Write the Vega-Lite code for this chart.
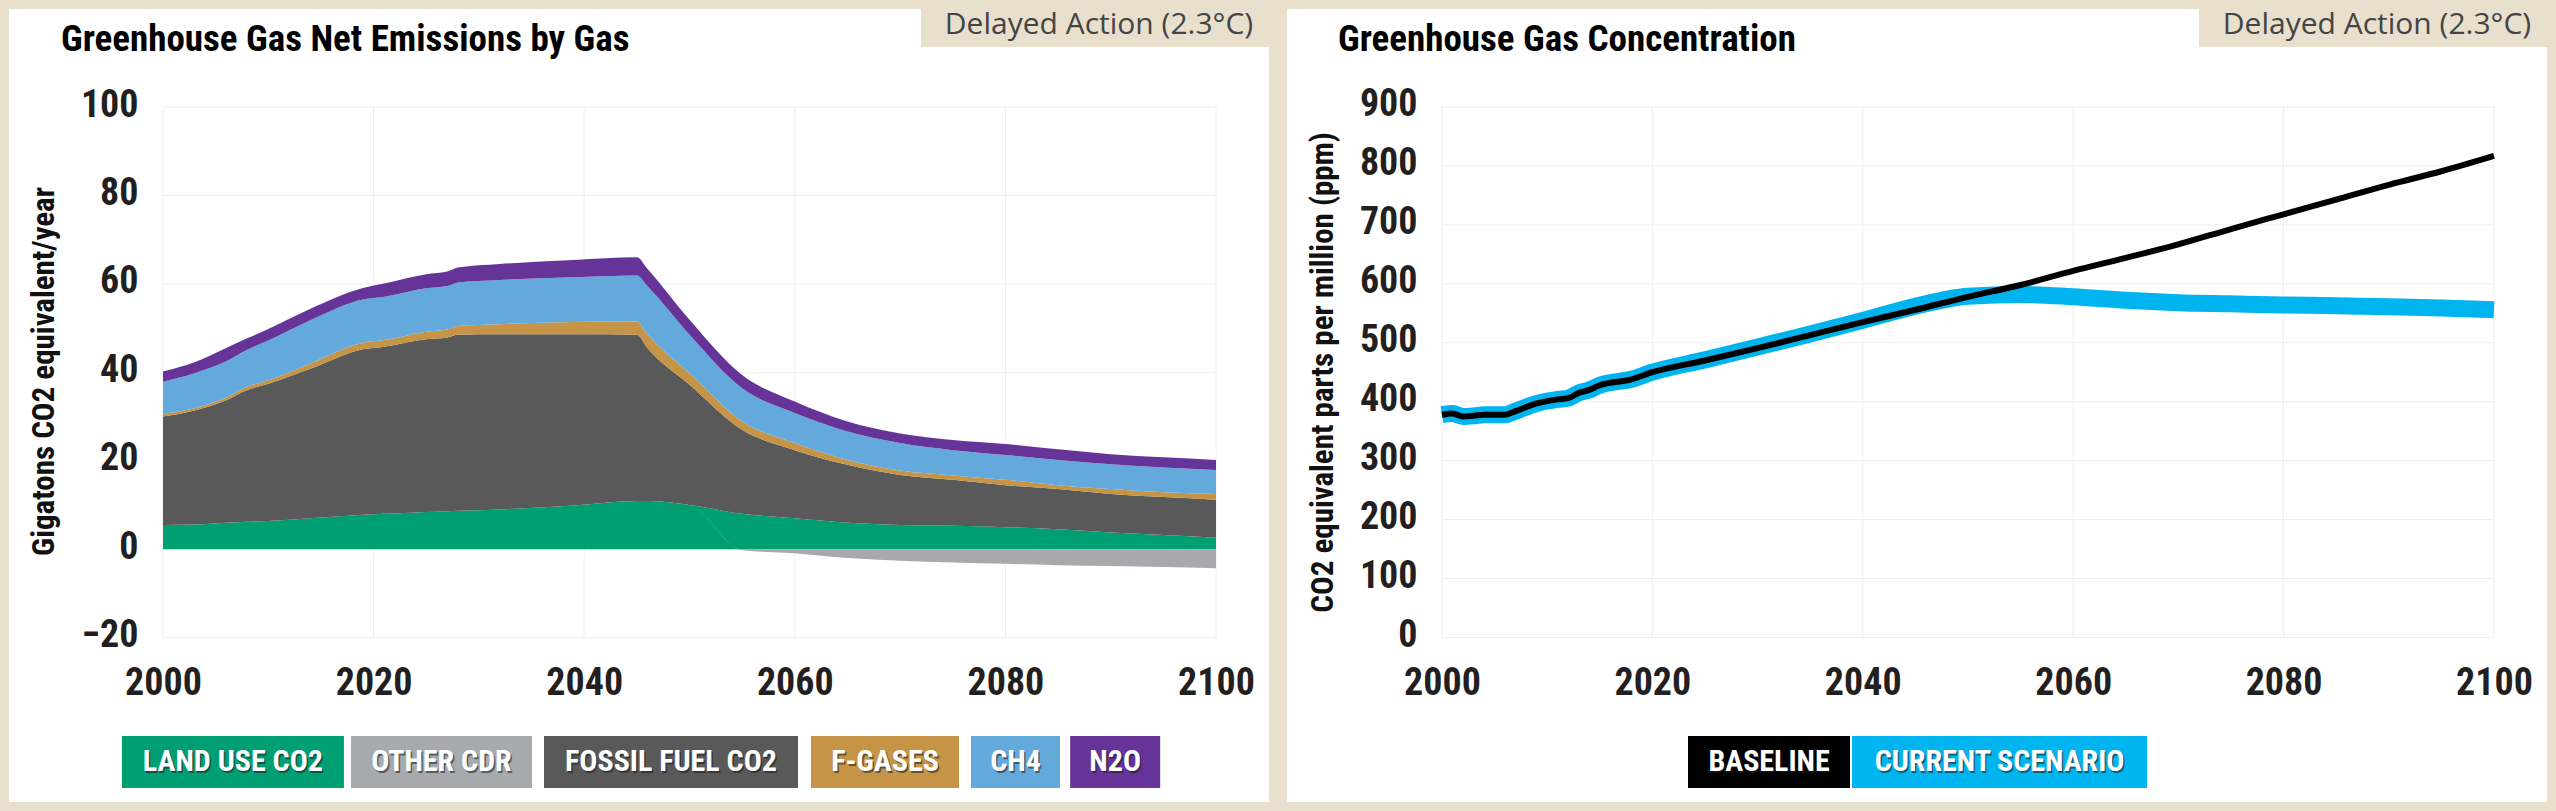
{
  "$schema": "https://vega.github.io/schema/vega-lite/v6.json",
  "background": "#e8dfcc",
  "padding": {"left": 9, "right": 9, "top": 9, "bottom": 9},
  "spacing": 18,
  "resolve": {"scale": {"color": "independent", "size": "independent", "x": "independent", "y": "independent"}},
  "config": {
    "view": {"fill": "#ffffff", "stroke": null},
    "font": "Roboto Condensed",
    "axis": {
      "domain": false, "ticks": false, "grid": false,
      "labelFont": "Roboto Condensed", "labelFontWeight": "bold", "labelFontSize": 38, "labelColor": "#231f20",
      "labelOverlap": false, "labelFlush": false,
      "titleFont": "Roboto Condensed", "titleFontWeight": "bold", "titleFontSize": 31, "titleColor": "#111111"
    },
    "title": {"font": "Roboto Condensed", "fontWeight": "bold", "fontSize": 37, "color": "#000000", "anchor": "start", "frame": "group", "baseline": "alphabetic"}
  },
  "datasets": {
    "emissions": [
      {"year": 2000, "LAND USE CO2": 5.5, "OTHER CDR": 0, "FOSSIL FUEL CO2": 24.5, "F-GASES": 0.6, "CH4": 7.3, "N2O": 2.3},
      {"year": 2003, "LAND USE CO2": 5.6, "OTHER CDR": 0, "FOSSIL FUEL CO2": 25.8, "F-GASES": 0.5, "CH4": 7.9, "N2O": 2.5},
      {"year": 2006, "LAND USE CO2": 6.0, "OTHER CDR": 0, "FOSSIL FUEL CO2": 27.7, "F-GASES": 0.6, "CH4": 8.2, "N2O": 3.0},
      {"year": 2008, "LAND USE CO2": 6.2, "OTHER CDR": 0, "FOSSIL FUEL CO2": 29.8, "F-GASES": 0.8, "CH4": 8.3, "N2O": 2.6},
      {"year": 2010, "LAND USE CO2": 6.4, "OTHER CDR": 0, "FOSSIL FUEL CO2": 31.0, "F-GASES": 0.8, "CH4": 9.0, "N2O": 2.6},
      {"year": 2014, "LAND USE CO2": 7.0, "OTHER CDR": 0, "FOSSIL FUEL CO2": 33.8, "F-GASES": 1.2, "CH4": 9.8, "N2O": 2.6},
      {"year": 2019, "LAND USE CO2": 7.8, "OTHER CDR": 0, "FOSSIL FUEL CO2": 37.4, "F-GASES": 1.5, "CH4": 9.8, "N2O": 2.6},
      {"year": 2021, "LAND USE CO2": 8.0, "OTHER CDR": 0, "FOSSIL FUEL CO2": 37.8, "F-GASES": 1.5, "CH4": 9.8, "N2O": 3.0},
      {"year": 2025, "LAND USE CO2": 8.4, "OTHER CDR": 0, "FOSSIL FUEL CO2": 39.1, "F-GASES": 1.7, "CH4": 9.8, "N2O": 3.2},
      {"year": 2027, "LAND USE CO2": 8.6, "OTHER CDR": 0, "FOSSIL FUEL CO2": 39.3, "F-GASES": 1.8, "CH4": 9.8, "N2O": 3.3},
      {"year": 2028, "LAND USE CO2": 8.7, "OTHER CDR": 0, "FOSSIL FUEL CO2": 39.8, "F-GASES": 2.0, "CH4": 9.8, "N2O": 3.4},
      {"year": 2032, "LAND USE CO2": 9.0, "OTHER CDR": 0, "FOSSIL FUEL CO2": 39.6, "F-GASES": 2.3, "CH4": 10.0, "N2O": 3.6},
      {"year": 2039, "LAND USE CO2": 9.9, "OTHER CDR": 0, "FOSSIL FUEL CO2": 38.7, "F-GASES": 2.8, "CH4": 10.1, "N2O": 3.9},
      {"year": 2045, "LAND USE CO2": 10.9, "OTHER CDR": 0, "FOSSIL FUEL CO2": 37.6, "F-GASES": 3.0, "CH4": 10.4, "N2O": 4.1},
      {"year": 2046, "LAND USE CO2": 10.9, "OTHER CDR": 0, "FOSSIL FUEL CO2": 34.6, "F-GASES": 3.1, "CH4": 10.9, "N2O": 3.9},
      {"year": 2050, "LAND USE CO2": 10.0, "OTHER CDR": 0, "FOSSIL FUEL CO2": 27.2, "F-GASES": 2.6, "CH4": 8.7, "N2O": 3.4},
      {"year": 2055, "LAND USE CO2": 8.0, "OTHER CDR": -0.2, "FOSSIL FUEL CO2": 19.0, "F-GASES": 1.9, "CH4": 7.5, "N2O": 3.0},
      {"year": 2060, "LAND USE CO2": 7.0, "OTHER CDR": -0.9, "FOSSIL FUEL CO2": 15.4, "F-GASES": 1.6, "CH4": 6.8, "N2O": 2.6},
      {"year": 2065, "LAND USE CO2": 6.0, "OTHER CDR": -2.0, "FOSSIL FUEL CO2": 13.1, "F-GASES": 1.1, "CH4": 6.4, "N2O": 2.3},
      {"year": 2070, "LAND USE CO2": 5.5, "OTHER CDR": -2.6, "FOSSIL FUEL CO2": 11.3, "F-GASES": 1.0, "CH4": 6.2, "N2O": 2.2},
      {"year": 2075, "LAND USE CO2": 5.3, "OTHER CDR": -3.0, "FOSSIL FUEL CO2": 10.4, "F-GASES": 1.0, "CH4": 5.7, "N2O": 2.3},
      {"year": 2080, "LAND USE CO2": 5.0, "OTHER CDR": -3.3, "FOSSIL FUEL CO2": 9.5, "F-GASES": 1.2, "CH4": 5.6, "N2O": 2.5},
      {"year": 2085, "LAND USE CO2": 4.5, "OTHER CDR": -3.6, "FOSSIL FUEL CO2": 9.1, "F-GASES": 0.9, "CH4": 5.7, "N2O": 2.4},
      {"year": 2090, "LAND USE CO2": 3.8, "OTHER CDR": -3.8, "FOSSIL FUEL CO2": 8.7, "F-GASES": 1.1, "CH4": 5.6, "N2O": 2.3},
      {"year": 2095, "LAND USE CO2": 3.2, "OTHER CDR": -4.0, "FOSSIL FUEL CO2": 8.6, "F-GASES": 1.1, "CH4": 5.6, "N2O": 2.3},
      {"year": 2100, "LAND USE CO2": 2.6, "OTHER CDR": -4.3, "FOSSIL FUEL CO2": 8.6, "F-GASES": 1.3, "CH4": 5.4, "N2O": 2.3}
    ],
    "gases": [
      {"gas": "LAND USE CO2", "idx": 1},
      {"gas": "OTHER CDR", "idx": 2},
      {"gas": "FOSSIL FUEL CO2", "idx": 3},
      {"gas": "F-GASES", "idx": 4},
      {"gas": "CH4", "idx": 5},
      {"gas": "N2O", "idx": 6}
    ],
    "concentration": [
      {"year": 2000, "BASELINE": 378, "CURRENT SCENARIO": 378},
      {"year": 2001, "BASELINE": 380, "CURRENT SCENARIO": 380},
      {"year": 2002, "BASELINE": 375, "CURRENT SCENARIO": 375},
      {"year": 2003, "BASELINE": 376, "CURRENT SCENARIO": 376},
      {"year": 2004, "BASELINE": 378, "CURRENT SCENARIO": 378},
      {"year": 2006, "BASELINE": 378, "CURRENT SCENARIO": 378},
      {"year": 2007, "BASELINE": 384, "CURRENT SCENARIO": 384},
      {"year": 2009, "BASELINE": 397, "CURRENT SCENARIO": 397},
      {"year": 2011, "BASELINE": 404, "CURRENT SCENARIO": 404},
      {"year": 2012, "BASELINE": 406, "CURRENT SCENARIO": 406},
      {"year": 2013, "BASELINE": 415, "CURRENT SCENARIO": 415},
      {"year": 2014, "BASELINE": 420, "CURRENT SCENARIO": 420},
      {"year": 2015, "BASELINE": 428, "CURRENT SCENARIO": 428},
      {"year": 2018, "BASELINE": 438, "CURRENT SCENARIO": 438},
      {"year": 2020, "BASELINE": 450, "CURRENT SCENARIO": 450},
      {"year": 2025, "BASELINE": 470, "CURRENT SCENARIO": 471},
      {"year": 2030, "BASELINE": 491, "CURRENT SCENARIO": 493},
      {"year": 2035, "BASELINE": 513, "CURRENT SCENARIO": 515},
      {"year": 2040, "BASELINE": 535, "CURRENT SCENARIO": 538},
      {"year": 2045, "BASELINE": 556, "CURRENT SCENARIO": 562},
      {"year": 2050, "BASELINE": 578, "CURRENT SCENARIO": 579},
      {"year": 2055, "BASELINE": 598, "CURRENT SCENARIO": 582},
      {"year": 2060, "BASELINE": 622, "CURRENT SCENARIO": 578},
      {"year": 2065, "BASELINE": 644, "CURRENT SCENARIO": 572},
      {"year": 2070, "BASELINE": 667, "CURRENT SCENARIO": 568},
      {"year": 2075, "BASELINE": 693, "CURRENT SCENARIO": 566},
      {"year": 2080, "BASELINE": 718, "CURRENT SCENARIO": 564},
      {"year": 2085, "BASELINE": 743, "CURRENT SCENARIO": 563},
      {"year": 2090, "BASELINE": 768, "CURRENT SCENARIO": 561},
      {"year": 2095, "BASELINE": 791, "CURRENT SCENARIO": 559},
      {"year": 2100, "BASELINE": 817, "CURRENT SCENARIO": 556}
    ],
    "series": [
      {"series": "BASELINE", "idx": 1},
      {"series": "CURRENT SCENARIO", "idx": 2}
    ],
    "badge": [
      {"badge": "Delayed Action (2.3°C)"}
    ]
  },
  "hconcat": [
    {
      "width": 1260,
      "height": 793,
      "title": {"text": "Greenhouse Gas Net Emissions by Gas", "dx": 52, "offset": -50},
      "resolve": {"scale": {"x": "independent", "y": "independent"}},
      "layer": [
        {
          "layer": [
            {
              "data": {"values": [{"year": 2000}, {"year": 2020}, {"year": 2040}, {"year": 2060}, {"year": 2080}, {"year": 2100}]},
              "mark": {"type": "rule", "color": "#eeeeee", "strokeWidth": 1},
              "encoding": {
                "x": {"field": "year", "type": "quantitative", "scale": {"domain": [1985.375, 2105.033], "nice": false, "zero": false}},
                "y": {"datum": -20, "type": "quantitative", "scale": {"domain": [-57.15, 122.16], "nice": false, "zero": false}},
                "y2": {"datum": 100}
              }
            },
            {
              "data": {"values": [{"value": -20}, {"value": 0}, {"value": 20}, {"value": 40}, {"value": 60}, {"value": 80}, {"value": 100}]},
              "mark": {"type": "rule", "color": "#eeeeee", "strokeWidth": 1},
              "encoding": {
                "y": {"field": "value", "type": "quantitative", "scale": {"domain": [-57.15, 122.16], "nice": false, "zero": false}},
                "x": {"datum": 2000, "type": "quantitative", "scale": {"domain": [1985.375, 2105.033], "nice": false, "zero": false}},
                "x2": {"datum": 2100}
              }
            },
            {
              "data": {"name": "emissions"},
              "transform": [
                {"fold": ["LAND USE CO2", "OTHER CDR", "FOSSIL FUEL CO2", "F-GASES", "CH4", "N2O"], "as": ["gas", "value"]},
                {"lookup": "gas", "from": {"data": {"name": "gases"}, "key": "gas", "fields": ["idx"]}}
              ],
              "mark": {"type": "area", "interpolate": "monotone"},
              "encoding": {
                "x": {
                  "field": "year", "type": "quantitative",
                  "scale": {"domain": [1985.375, 2105.033], "nice": false, "zero": false},
                  "axis": {"values": [2000, 2020, 2040, 2060, 2080, 2100], "format": "d", "offset": -164.3, "labelPadding": 27, "title": null}
                },
                "y": {
                  "field": "value", "type": "quantitative",
                  "scale": {"domain": [-57.15, 122.16], "nice": false, "zero": false},
                  "axis": {"values": [-20, 0, 20, 40, 60, 80, 100], "offset": -154, "labelPadding": 25, "labelOffset": -2,
                           "title": "Gigatons CO2 equivalent/year", "titleX": -110, "titleY": 362, "titleBaseline": "alphabetic"}
                },
                "color": {
                  "field": "gas", "type": "nominal",
                  "scale": {"domain": ["LAND USE CO2", "OTHER CDR", "FOSSIL FUEL CO2", "F-GASES", "CH4", "N2O"],
                            "range": ["#009e73", "#a7a9ac", "#595959", "#c69446", "#63a9dc", "#663399"]},
                  "legend": null
                },
                "order": {"field": "idx", "type": "quantitative"}
              }
            },
            {
              "data": {"name": "badge"},
              "mark": {"type": "rect", "color": "#e8dfcc"},
              "encoding": {
                "x": {"datum": 2071.98, "type": "quantitative", "scale": {"domain": [1985.375, 2105.033], "nice": false, "zero": false}},
                "x2": {"datum": 2105.033},
                "y": {"datum": 122.16, "type": "quantitative", "scale": {"domain": [-57.15, 122.16], "nice": false, "zero": false}},
                "y2": {"datum": 113.57}
              }
            },
            {
              "data": {"name": "badge"},
              "mark": {"type": "text", "font": "Open Sans", "fontSize": 30, "color": "#444444", "align": "center", "baseline": "alphabetic"},
              "encoding": {
                "x": {"datum": 2088.89, "type": "quantitative", "scale": {"domain": [1985.375, 2105.033], "nice": false, "zero": false}},
                "y": {"datum": 116.4, "type": "quantitative", "scale": {"domain": [-57.15, 122.16], "nice": false, "zero": false}},
                "text": {"field": "badge", "type": "nominal"}
              }
            }
          ]
        },
        {
          "data": {"name": "gases"},
          "layer": [
            {
              "mark": {"type": "bar"},
              "encoding": {
                "x": {"field": "idx", "type": "quantitative",
                      "scale": {"domain": [1, 2, 3, 4, 5, 6], "range": [218, 432.5, 662, 876, 1006.5, 1109]}, "axis": null},
                "y": {"datum": 0, "type": "quantitative", "scale": {"domain": [-0.269, 14.98], "nice": false, "zero": false}, "axis": null},
                "y2": {"datum": 1},
                "size": {"field": "idx", "type": "quantitative", "scale": {"domain": [1, 2, 3, 4, 5, 6], "range": [222, 181, 254, 148, 89, 90], "zero": false}, "legend": null},
                "color": {
                  "field": "gas", "type": "nominal",
                  "scale": {"domain": ["LAND USE CO2", "OTHER CDR", "FOSSIL FUEL CO2", "F-GASES", "CH4", "N2O"],
                            "range": ["#009e73", "#a7a9ac", "#595959", "#c69446", "#63a9dc", "#663399"]},
                  "legend": null
                }
              }
            },
            {
              "mark": {"type": "text", "fontWeight": "bold", "fontSize": 30, "color": "#1a1a1a", "opacity": 0.55, "dx": 1.5, "dy": 1.5, "baseline": "middle", "align": "center"},
              "encoding": {
                "x": {"field": "idx", "type": "quantitative",
                      "scale": {"domain": [1, 2, 3, 4, 5, 6], "range": [218, 432.5, 662, 876, 1006.5, 1109]}, "axis": null},
                "y": {"datum": 0.5, "type": "quantitative", "scale": {"domain": [-0.269, 14.98], "nice": false, "zero": false}, "axis": null},
                "text": {"field": "gas"}
              }
            },
            {
              "mark": {"type": "text", "fontWeight": "bold", "fontSize": 30, "color": "#ffffff", "baseline": "middle", "align": "center"},
              "encoding": {
                "x": {"field": "idx", "type": "quantitative",
                      "scale": {"domain": [1, 2, 3, 4, 5, 6], "range": [218, 432.5, 662, 876, 1006.5, 1109]}, "axis": null},
                "y": {"datum": 0.5, "type": "quantitative", "scale": {"domain": [-0.269, 14.98], "nice": false, "zero": false}, "axis": null},
                "text": {"field": "gas"}
              }
            }
          ]
        }
      ]
    },
    {
      "width": 1260,
      "height": 793,
      "title": {"text": "Greenhouse Gas Concentration", "dx": 51, "offset": -50},
      "resolve": {"scale": {"x": "independent", "y": "independent"}},
      "layer": [
        {
          "layer": [
            {
              "data": {"values": [{"year": 2000}, {"year": 2020}, {"year": 2040}, {"year": 2060}, {"year": 2080}, {"year": 2100}]},
              "mark": {"type": "rule", "color": "#eeeeee", "strokeWidth": 1},
              "encoding": {
                "x": {"field": "year", "type": "quantitative", "scale": {"domain": [1985.27, 2105.04], "nice": false, "zero": false}},
                "y": {"datum": 0, "type": "quantitative", "scale": {"domain": [-279.1, 1066.26], "nice": false, "zero": false}},
                "y2": {"datum": 900}
              }
            },
            {
              "data": {"values": [{"ppm": 0}, {"ppm": 100}, {"ppm": 200}, {"ppm": 300}, {"ppm": 400}, {"ppm": 500}, {"ppm": 600}, {"ppm": 700}, {"ppm": 800}, {"ppm": 900}]},
              "mark": {"type": "rule", "color": "#eeeeee", "strokeWidth": 1},
              "encoding": {
                "y": {"field": "ppm", "type": "quantitative", "scale": {"domain": [-279.1, 1066.26], "nice": false, "zero": false}},
                "x": {"datum": 2000, "type": "quantitative", "scale": {"domain": [1985.27, 2105.04], "nice": false, "zero": false}},
                "x2": {"datum": 2100}
              }
            },
            {
              "data": {"name": "concentration"},
              "transform": [
                {"fold": ["CURRENT SCENARIO", "BASELINE"], "as": ["series", "ppm"]},
                {"filter": "datum.series === 'CURRENT SCENARIO'"}
              ],
              "mark": {"type": "line", "interpolate": "monotone", "color": "#00b5ef", "strokeWidth": 17},
              "encoding": {
                "x": {
                  "field": "year", "type": "quantitative",
                  "scale": {"domain": [1985.27, 2105.04], "nice": false, "zero": false},
                  "axis": {"values": [2000, 2020, 2040, 2060, 2080, 2100], "format": "d", "offset": -164.5, "labelPadding": 27, "title": null}
                },
                "y": {
                  "field": "ppm", "type": "quantitative",
                  "scale": {"domain": [-279.1, 1066.26], "nice": false, "zero": false},
                  "axis": {"values": [0, 100, 200, 300, 400, 500, 600, 700, 800, 900], "offset": -155, "labelPadding": 25, "labelOffset": -2,
                           "title": "CO2 equivalent parts per million (ppm)", "titleX": -110, "titleY": 363, "titleBaseline": "alphabetic"}
                }
              }
            },
            {
              "data": {"name": "concentration"},
              "transform": [
                {"fold": ["CURRENT SCENARIO", "BASELINE"], "as": ["series", "ppm"]},
                {"filter": "datum.series === 'BASELINE'"}
              ],
              "mark": {"type": "line", "interpolate": "monotone", "color": "#000000", "strokeWidth": 6},
              "encoding": {
                "x": {"field": "year", "type": "quantitative", "scale": {"domain": [1985.27, 2105.04], "nice": false, "zero": false}},
                "y": {"field": "ppm", "type": "quantitative", "scale": {"domain": [-279.1, 1066.26], "nice": false, "zero": false}}
              }
            },
            {
              "data": {"name": "badge"},
              "mark": {"type": "rect", "color": "#e8dfcc"},
              "encoding": {
                "x": {"datum": 2071.96, "type": "quantitative", "scale": {"domain": [1985.27, 2105.04], "nice": false, "zero": false}},
                "x2": {"datum": 2105.04},
                "y": {"datum": 1066.26, "type": "quantitative", "scale": {"domain": [-279.1, 1066.26], "nice": false, "zero": false}},
                "y2": {"datum": 1001.79}
              }
            },
            {
              "data": {"name": "badge"},
              "mark": {"type": "text", "font": "Open Sans", "fontSize": 30, "color": "#444444", "align": "center", "baseline": "alphabetic"},
              "encoding": {
                "x": {"datum": 2088.88, "type": "quantitative", "scale": {"domain": [1985.27, 2105.04], "nice": false, "zero": false}},
                "y": {"datum": 1023.2, "type": "quantitative", "scale": {"domain": [-279.1, 1066.26], "nice": false, "zero": false}},
                "text": {"field": "badge", "type": "nominal"}
              }
            }
          ]
        },
        {
          "data": {"name": "series"},
          "layer": [
            {
              "mark": {"type": "bar"},
              "encoding": {
                "x": {"field": "idx", "type": "quantitative", "scale": {"domain": [1, 2], "range": [477, 717.5]}, "axis": null},
                "y": {"datum": 0, "type": "quantitative", "scale": {"domain": [-0.269, 14.98], "nice": false, "zero": false}, "axis": null},
                "y2": {"datum": 1},
                "size": {"field": "idx", "type": "quantitative", "scale": {"domain": [1, 2], "range": [162, 295], "zero": false}, "legend": null},
                "color": {
                  "field": "series", "type": "nominal",
                  "scale": {"domain": ["BASELINE", "CURRENT SCENARIO"], "range": ["#000000", "#00b5ef"]},
                  "legend": null
                }
              }
            },
            {
              "mark": {"type": "text", "fontWeight": "bold", "fontSize": 30, "color": "#1a1a1a", "opacity": 0.55, "dx": 1.5, "dy": 1.5, "baseline": "middle", "align": "center"},
              "encoding": {
                "x": {"field": "idx", "type": "quantitative", "scale": {"domain": [1, 2], "range": [477, 717.5]}, "axis": null},
                "y": {"datum": 0.5, "type": "quantitative", "scale": {"domain": [-0.269, 14.98], "nice": false, "zero": false}, "axis": null},
                "text": {"field": "series"}
              }
            },
            {
              "mark": {"type": "text", "fontWeight": "bold", "fontSize": 30, "color": "#ffffff", "baseline": "middle", "align": "center"},
              "encoding": {
                "x": {"field": "idx", "type": "quantitative", "scale": {"domain": [1, 2], "range": [477, 717.5]}, "axis": null},
                "y": {"datum": 0.5, "type": "quantitative", "scale": {"domain": [-0.269, 14.98], "nice": false, "zero": false}, "axis": null},
                "text": {"field": "series"}
              }
            }
          ]
        }
      ]
    }
  ]
}
